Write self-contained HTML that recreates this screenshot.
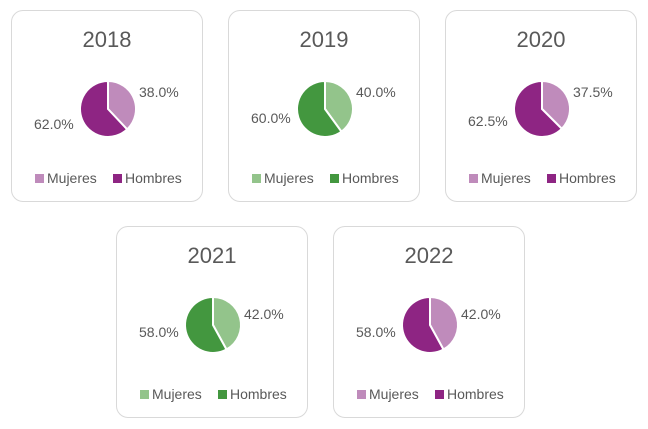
<!DOCTYPE html>
<html><head><style>
body{margin:0;width:648px;height:429px;background:#fff;position:relative;font-family:"Liberation Sans",sans-serif;overflow:hidden}
.c{position:absolute;width:192px;height:192px;border:1px solid #d9d9d9;border-radius:12px;box-sizing:border-box}
svg{position:absolute;left:0;top:0}
</style></head><body>
<div class="c" style="left:11px;top:10px"><svg width="190" height="190">
<text x="95" y="36" font-size="22" fill="#595959" text-anchor="middle" font-family="Liberation Sans">2018</text>
<path d="M96 98 L96 70 A28 28 0 0 1 115.17 118.41 Z" fill="#bf8bbb" stroke="#fff" stroke-width="2"/>
<path d="M96 98 L115.17 118.41 A28 28 0 1 1 96 70 Z" fill="#8e2583" stroke="#fff" stroke-width="2"/>
<text x="127" y="86" font-size="14" fill="#595959">38.0%</text>
<text x="22" y="118" font-size="14" fill="#595959">62.0%</text>
<rect x="23" y="163" width="9" height="9" fill="#bf8bbb"/><text x="35" y="172" font-size="14" fill="#595959">Mujeres</text>
<rect x="101" y="163" width="9" height="9" fill="#8e2583"/><text x="113" y="172" font-size="14" fill="#595959">Hombres</text>
</svg></div>
<div class="c" style="left:228px;top:10px"><svg width="190" height="190">
<text x="95" y="36" font-size="22" fill="#595959" text-anchor="middle" font-family="Liberation Sans">2019</text>
<path d="M96 98 L96 70 A28 28 0 0 1 112.46 120.65 Z" fill="#93c48b" stroke="#fff" stroke-width="2"/>
<path d="M96 98 L112.46 120.65 A28 28 0 1 1 96 70 Z" fill="#43973f" stroke="#fff" stroke-width="2"/>
<text x="127" y="86" font-size="14" fill="#595959">40.0%</text>
<text x="22" y="112" font-size="14" fill="#595959">60.0%</text>
<rect x="23" y="163" width="9" height="9" fill="#93c48b"/><text x="35" y="172" font-size="14" fill="#595959">Mujeres</text>
<rect x="101" y="163" width="9" height="9" fill="#43973f"/><text x="113" y="172" font-size="14" fill="#595959">Hombres</text>
</svg></div>
<div class="c" style="left:445px;top:10px"><svg width="190" height="190">
<text x="95" y="36" font-size="22" fill="#595959" text-anchor="middle" font-family="Liberation Sans">2020</text>
<path d="M96 98 L96 70 A28 28 0 0 1 115.8 117.8 Z" fill="#bf8bbb" stroke="#fff" stroke-width="2"/>
<path d="M96 98 L115.8 117.8 A28 28 0 1 1 96 70 Z" fill="#8e2583" stroke="#fff" stroke-width="2"/>
<text x="127" y="86" font-size="14" fill="#595959">37.5%</text>
<text x="22" y="115" font-size="14" fill="#595959">62.5%</text>
<rect x="23" y="163" width="9" height="9" fill="#bf8bbb"/><text x="35" y="172" font-size="14" fill="#595959">Mujeres</text>
<rect x="101" y="163" width="9" height="9" fill="#8e2583"/><text x="113" y="172" font-size="14" fill="#595959">Hombres</text>
</svg></div>
<div class="c" style="left:116px;top:226px"><svg width="190" height="190">
<text x="95" y="36" font-size="22" fill="#595959" text-anchor="middle" font-family="Liberation Sans">2021</text>
<path d="M96 98 L96 70 A28 28 0 0 1 109.49 122.54 Z" fill="#93c48b" stroke="#fff" stroke-width="2"/>
<path d="M96 98 L109.49 122.54 A28 28 0 1 1 96 70 Z" fill="#43973f" stroke="#fff" stroke-width="2"/>
<text x="127" y="92" font-size="14" fill="#595959">42.0%</text>
<text x="22" y="110" font-size="14" fill="#595959">58.0%</text>
<rect x="23" y="163" width="9" height="9" fill="#93c48b"/><text x="35" y="172" font-size="14" fill="#595959">Mujeres</text>
<rect x="101" y="163" width="9" height="9" fill="#43973f"/><text x="113" y="172" font-size="14" fill="#595959">Hombres</text>
</svg></div>
<div class="c" style="left:333px;top:226px"><svg width="190" height="190">
<text x="95" y="36" font-size="22" fill="#595959" text-anchor="middle" font-family="Liberation Sans">2022</text>
<path d="M96 98 L96 70 A28 28 0 0 1 109.49 122.54 Z" fill="#bf8bbb" stroke="#fff" stroke-width="2"/>
<path d="M96 98 L109.49 122.54 A28 28 0 1 1 96 70 Z" fill="#8e2583" stroke="#fff" stroke-width="2"/>
<text x="127" y="92" font-size="14" fill="#595959">42.0%</text>
<text x="22" y="110" font-size="14" fill="#595959">58.0%</text>
<rect x="23" y="163" width="9" height="9" fill="#bf8bbb"/><text x="35" y="172" font-size="14" fill="#595959">Mujeres</text>
<rect x="101" y="163" width="9" height="9" fill="#8e2583"/><text x="113" y="172" font-size="14" fill="#595959">Hombres</text>
</svg></div>
</body></html>
